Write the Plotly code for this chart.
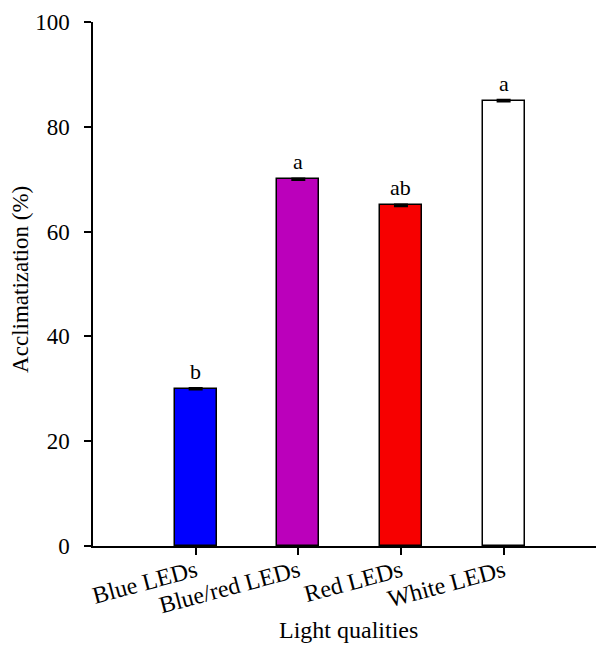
import plotly.graph_objects as go

categories = ["Blue LEDs", "Blue/red LEDs", "Red LEDs", "White LEDs"]
values = [30, 70, 65, 85]
errors = [0.15, 0.15, 0.15, 0.15]
letters = ["b", "a", "ab", "a"]
colors = ["#0000FF", "#BB00BB", "#F70000", "#FFFFFF"]
y_ticks = [0, 20, 40, 60, 80, 100]
x_title = "Light qualities"
y_title = "Acclimatization (%)"

FONT = "Liberation Serif, Times New Roman, serif"

fig = go.Figure()
fig.add_trace(go.Bar(
    x=list(range(len(categories))),
    y=values,
    width=0.41,
    marker=dict(color=colors, line=dict(color="black", width=1.5)),
    error_y=dict(type="data", array=errors, visible=True, color="black", thickness=2, width=7),
    showlegend=False,
))

for i, (v, t) in enumerate(zip(values, letters)):
    fig.add_annotation(x=i, y=v, text=t, showarrow=False, yanchor="bottom", yshift=3,
                       font=dict(family=FONT, size=22, color="black"))

fig.add_annotation(xref="paper", yref="paper", x=0.507, y=-0.161, text=x_title, showarrow=False,
                   xanchor="center", yanchor="middle", borderpad=0,
                   font=dict(family=FONT, size=24, color="black"))
fig.add_annotation(xref="paper", yref="paper", x=-0.143, y=0.508, text=y_title, showarrow=False,
                   textangle=-90, xanchor="center", yanchor="middle",
                   font=dict(family=FONT, size=23, color="black"))

fig.update_layout(
    width=596, height=646,
    margin=dict(l=93, r=0, t=22, b=100),
    plot_bgcolor="white", paper_bgcolor="white",
    font=dict(family=FONT, size=22, color="black"),
    bargap=0,
)
fig.update_xaxes(
    range=[-1, 3.9], tickmode="array", tickvals=list(range(len(categories))), ticktext=categories,
    tickangle=-15, showline=True, linecolor="black", linewidth=1.5, ticks="outside", ticklen=7,
    tickwidth=1.5, tickcolor="black", showgrid=False, zeroline=False, automargin=False,
    tickfont=dict(family=FONT, size=24), ticklabelstandoff=-7,
)
fig.update_yaxes(
    range=[0, 100], tickmode="array", tickvals=y_ticks, showline=True, linecolor="black", linewidth=1.5,
    ticks="outside", ticklen=7, tickwidth=1.5, tickcolor="black", showgrid=False, zeroline=False,
    automargin=False,
    tickfont=dict(family=FONT, size=23), ticklabelstandoff=10,
)

fig.write_html("out.html")
